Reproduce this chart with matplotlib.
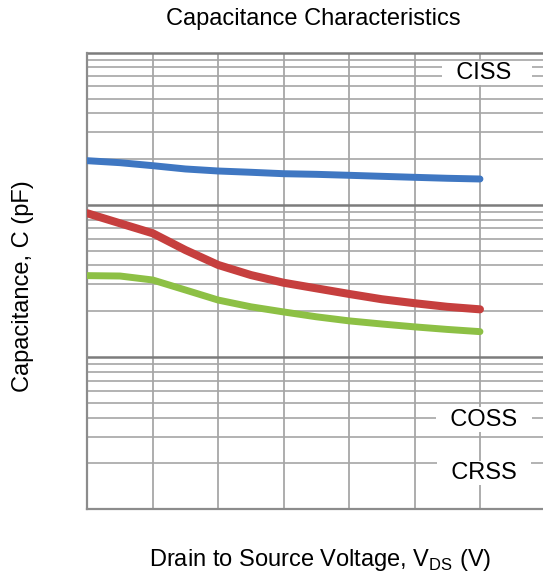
import numpy as np
import matplotlib
matplotlib.use('Agg')
import matplotlib.pyplot as plt

plt.rcParams['font.family'] = ['Liberation Sans', 'DejaVu Sans']

## ==========================
## Values
## ==========================
vds = [0, 2.5, 5, 7.5, 10, 12.5, 15, 17.5, 20, 22.5, 25, 27.5, 30]
ciss = [1952, 1894, 1810, 1722, 1670, 1638, 1603, 1588, 1565, 1541, 1518, 1496, 1480]
coss = [881, 757, 651, 505, 403, 346, 308, 283, 260, 240, 226, 214, 206]
crss = [343, 341, 321, 276, 237, 214, 198, 184, 173, 165, 158, 152, 147]

label_names = ['  CISS   ', '  COSS  ', '  CRSS  ']
label_x = [30.52, 30.3, 30.3]
label_y = [7325, 38.9, 17.3]

fig = plt.figure(figsize=(5.43, 5.78), dpi=100)
W, H = 543., 578.
ax = fig.add_axes([87.3 / W, (H - 509.3) / H, (545.4 - 87.3) / W, (509.3 - 52.7) / H])

ax.set_yscale('log')
ax.set_xlim(0, 35)
ax.set_ylim(10, 10000)

## =========
## the grid
## =========
for x in np.arange(5, 35, 5):
    ax.axvline(x, color='#a0a0a0', lw=1.2, zorder=1)
for dec in [10, 100, 1000]:
    for m in range(2, 10):
        ax.axhline(dec * m, color='#a6a6a6', lw=1.2, zorder=1)
for dec in [100, 1000, 10000]:
    ax.axhline(dec, color='#7c7c7c', lw=1.8, zorder=1, clip_on=False)

ax.set_xticks([])
ax.set_yticks([])
ax.yaxis.set_minor_locator(matplotlib.ticker.NullLocator())
for s in ['top', 'right']:
    ax.spines[s].set_visible(False)
for s in ['left', 'bottom']:
    ax.spines[s].set_color('#8c8c8c')
    ax.spines[s].set_linewidth(1.6)

## ===========
## the curves
## ===========
ax.plot(vds, ciss, color='#3f77c2', lw=5, solid_capstyle='round', zorder=3)
ax.plot(vds, coss, color='#c63f3e', lw=5.8, solid_capstyle='round', zorder=3)
ax.plot(vds, crss, color='#8dc045', lw=5, solid_capstyle='round', zorder=3)

for name, lx, ly in zip(label_names, label_x, label_y):
    ax.text(lx, ly, name, ha='center', va='center', fontsize=17,
            zorder=4, bbox=dict(boxstyle='square,pad=0.05', fc='white', ec='none'))

fig.text(313.8 / W, 1 - 18.5 / H, 'Capacitance Characteristics', ha='center', va='center', fontsize=17)
fig.text(23 / W, 1 - 286 / H, 'Capacitance, C (pF)', ha='center', va='center', rotation=90, fontsize=17)
fig.text(320 / W, 1 - 560 / H, r'Drain to Source Voltage, V$_{\mathregular{DS}}$ (V)',
         ha='center', va='center', fontsize=17)

fig.savefig('out.png', dpi=100)
